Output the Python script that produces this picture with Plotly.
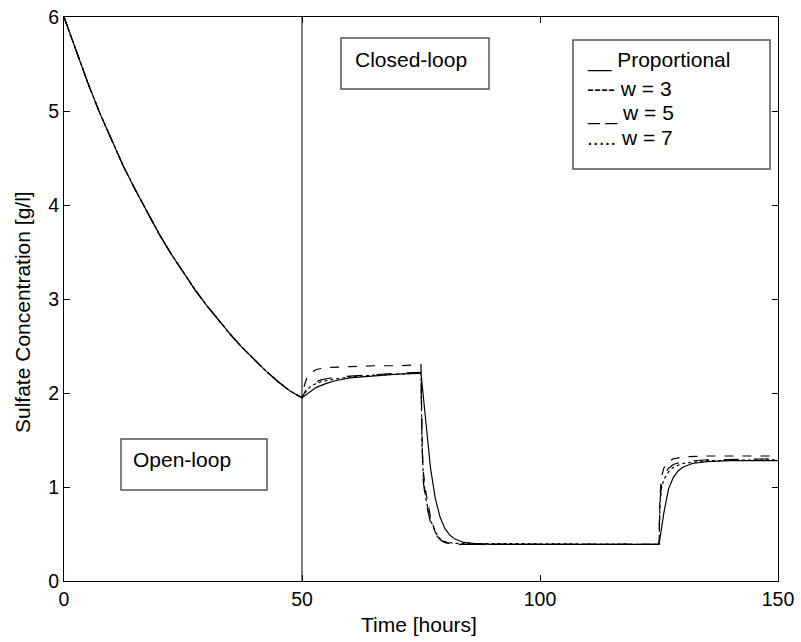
import plotly.graph_objects as go

# ---- data ----
open_t = [0, 2.5, 5, 7.5, 10, 12.5, 15, 17.5, 20, 22.5, 25, 27.5, 30, 32.5, 35, 37.5, 40, 42.5, 45, 47.5, 50]
open_c = [6.00, 5.64, 5.30, 4.98, 4.69, 4.41, 4.16, 3.92, 3.69, 3.48, 3.29, 3.10, 2.93, 2.77, 2.62, 2.48, 2.35, 2.23, 2.12, 2.02, 1.95]

prop_t = [50, 51, 52, 53, 55, 57, 60, 65, 70, 75, 75.5, 76, 77, 78, 79, 80, 81, 82, 84, 86, 90, 100, 110, 125,
          125.5, 126, 127, 128, 129, 130, 132, 135, 140, 150]
prop_c = [1.95, 1.99, 2.03, 2.06, 2.10, 2.13, 2.16, 2.18, 2.20, 2.21, 1.95, 1.65, 1.20, 0.88, 0.68, 0.56, 0.49, 0.45, 0.41, 0.40, 0.39, 0.39, 0.39, 0.39,
          0.55, 0.72, 0.98, 1.10, 1.17, 1.21, 1.25, 1.27, 1.28, 1.28]

w3_t = [50, 50.5, 51, 52, 53, 55, 60, 65, 70, 75, 75.2, 75.4, 76, 77, 78, 79, 80, 82, 90, 125,
        125.2, 125.5, 126, 127, 128, 130, 135, 150]
w3_c = [1.95, 2.08, 2.16, 2.22, 2.25, 2.27, 2.28, 2.29, 2.29, 2.30, 1.60, 1.20, 0.95, 0.68, 0.52, 0.44, 0.41, 0.39, 0.39, 0.39,
        0.90, 1.10, 1.20, 1.27, 1.30, 1.32, 1.33, 1.33]

w5_t = [50, 51, 52, 54, 57, 60, 65, 70, 75, 75.2, 75.5, 76, 77, 78, 79, 80, 82, 125,
        125.2, 125.5, 126, 127, 128, 130, 135, 150]
w5_c = [1.95, 2.05, 2.10, 2.14, 2.17, 2.18, 2.20, 2.21, 2.22, 1.50, 1.05, 0.85, 0.62, 0.50, 0.44, 0.41, 0.39, 0.39,
        0.85, 1.02, 1.12, 1.20, 1.24, 1.27, 1.29, 1.30]

w7_t = [50, 51, 52, 54, 57, 60, 65, 70, 75, 75.2, 75.5, 76, 77, 78, 79, 80, 82, 125,
        125.2, 125.5, 126, 127, 128, 130, 135, 150]
w7_c = [1.95, 2.03, 2.08, 2.12, 2.15, 2.17, 2.19, 2.20, 2.21, 1.45, 1.10, 0.88, 0.65, 0.52, 0.45, 0.42, 0.40, 0.39,
        0.80, 0.98, 1.08, 1.16, 1.21, 1.25, 1.28, 1.29]

switch_time = 50
x_ticks = [0, 50, 100, 150]
y_ticks = [0, 1, 2, 3, 4, 5, 6]
legend_lines = ["__ Proportional", "---- w = 3", "_ _ w = 5", "..... w = 7"]

FONT = "Liberation Sans, Arial, sans-serif"
FS_TICK = 19.5
FS_TEXT = 21

fig = go.Figure()
series = [
    ("Proportional", prop_t, prop_c, "solid"),
    ("w = 3", w3_t, w3_c, "dash"),
    ("w = 5", w5_t, w5_c, "longdash"),
    ("w = 7", w7_t, w7_c, "dot"),
]
for name, t, c, dash in series:
    fig.add_trace(go.Scatter(x=open_t + t[1:], y=open_c + c[1:], mode="lines", name=name,
                             line=dict(color="black", width=1.2, dash=dash)))

fig.add_vline(x=switch_time, line=dict(color="black", width=1))

# body margin is removed on load, so page pixels == figure pixels
PL, PR, PT, PB = 64, 778, 17, 581
W, H = 801, 642
L, T = PL, PT
R = W - PR
B = H - PB
pw, ph = PR - PL, PB - PT


def px_x(p):
    return (p - PL) / pw


def px_y(p):
    return (PB - p) / ph


box_line = dict(color="#555555", width=1.5)
for (x0, y0, x1, y1) in [(121, 439, 267, 490), (341, 38, 489, 89), (573, 40, 770, 169)]:
    fig.add_shape(type="rect", xref="paper", yref="paper",
                  x0=px_x(x0), x1=px_x(x1), y0=px_y(y1), y1=px_y(y0),
                  line=box_line, fillcolor="white", layer="above")

annos = [
    dict(text="Open-loop", x=px_x(131), y=px_y(459)),
    dict(text="Closed-loop", x=px_x(353), y=px_y(59)),
]
for txt, py in zip(legend_lines, [60, 88, 113, 138]):
    annos.append(dict(text=txt, x=px_x(585), y=px_y(py)))
for a in annos:
    fig.add_annotation(xref="paper", yref="paper", xanchor="left", yanchor="middle",
                       showarrow=False, font=dict(family=FONT, size=FS_TEXT, color="black"), **a)

fig.add_annotation(text="Time [hours]", xref="paper", yref="paper", x=px_x(419), y=px_y(624),
                   xanchor="center", yanchor="middle", showarrow=False,
                   font=dict(family=FONT, size=FS_TEXT, color="black"))
fig.add_annotation(text="Sulfate Concentration [g/l]", xref="paper", yref="paper", x=px_x(22), y=px_y(312),
                   xanchor="center", yanchor="middle", textangle=-90, showarrow=False,
                   font=dict(family=FONT, size=FS_TEXT, color="black"))

axis_common = dict(showgrid=False, zeroline=False, showline=True, linecolor="black", linewidth=1.2,
                   mirror="ticks", ticks="inside", ticklen=6, tickcolor="black", tickwidth=1,
                   ticklabeloverflow="allow",
                   tickfont=dict(family=FONT, size=FS_TICK, color="black"))
fig.update_xaxes(range=[0, 150], tickvals=x_ticks, **axis_common)
fig.update_yaxes(range=[0, 6], tickvals=y_ticks, **axis_common)

fig.update_layout(width=W, height=H, margin=dict(l=L, r=R, t=T, b=B, autoexpand=False),
                  plot_bgcolor="white", paper_bgcolor="white", showlegend=False,
                  font=dict(family=FONT, size=FS_TICK, color="black"))

fig.write_html("out.html", config={"displayModeBar": False},
               post_script="document.body.style.margin='0';document.body.style.overflow='hidden';")
